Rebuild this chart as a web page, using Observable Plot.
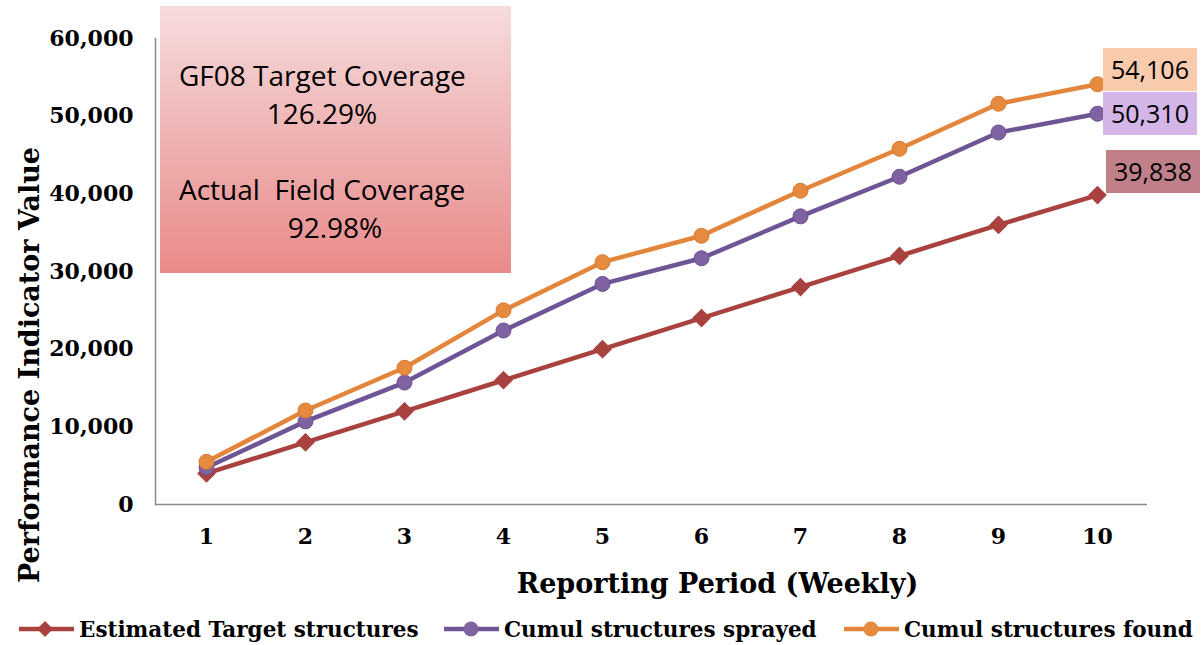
<!DOCTYPE html>
<html>
<head>
<meta charset="utf-8">
<script src="https://cdn.jsdelivr.net/npm/d3@7"></script>
<script src="https://cdn.jsdelivr.net/npm/@observablehq/plot@0.6"></script>
<style>
  body { margin: 0; background: #fff; }
  #wrap { position: relative; width: 1201px; height: 645px; overflow: hidden; }
  .box { position: absolute; font-family: "Open Sans", sans-serif; color: #000; }
  .legend { position: absolute; top: 612px; left: 0; width: 1201px; height: 34px;
            font-family: "DejaVu Serif", serif; font-weight: bold; font-size: 21.5px; }
  .leg-item { position: absolute; display: flex; align-items: center; white-space: nowrap; }
  .ytitle { position: absolute; font-family: "DejaVu Serif", serif; font-weight: bold; font-size: 27px;
            white-space: nowrap; transform: translate(-50%, -50%) rotate(-90deg); }
</style>
</head>
<body>
<div id="wrap"></div>
<script>
// ---- data ----
const weeks = [1, 2, 3, 4, 5, 6, 7, 8, 9, 10];
const target = [4000, 8000, 12000, 16000, 20000, 24000, 28000, 32000, 36000, 39838];
const sprayed = [4760, 10700, 15700, 22400, 28400, 31700, 37100, 42200, 47900, 50310];
const found = [5500, 12100, 17600, 25000, 31200, 34600, 40400, 45800, 51600, 54106];
const seriesNames = ["Estimated Target structures", "Cumul structures sprayed", "Cumul structures found"];
const yTicks = [0, 10000, 20000, 30000, 40000, 50000, 60000];
const boxLines = ["GF08 Target Coverage", "126.29%", "Actual  Field Coverage", "92.98%"];
const yTitle = "Performance Indicator Value";
const xTitle = "Reporting Period (Weekly)";

const colors = { line: ["#A9423F", "#6E5596", "#E3853A"], dot: ["#A9423F", "#7E62A1", "#E58A3E"] };

const rows = (vals, s) => weeks.map((w, i) => ({ week: w, value: vals[i], series: s }));
const dTarget = rows(target, seriesNames[0]);
const dSprayed = rows(sprayed, seriesNames[1]);
const dFound = rows(found, seriesNames[2]);

const W = 1201, H = 645;
const chart = Plot.plot({
  width: W, height: H,
  marginLeft: 155, marginRight: 54, marginTop: 38, marginBottom: 141,
  style: { fontFamily: "DejaVu Serif, serif", fontWeight: "bold", fontSize: "22px", color: "#000", background: "transparent", overflow: "visible" },
  x: { type: "point", domain: weeks, padding: 0.5 },
  y: { domain: [0, 60000] },
  marks: [
    Plot.axisY({ ticks: yTicks, tickFormat: d3.format(","), tickSize: 0, tickPadding: 22, label: null, fontSize: 22, fontWeight: "bold" }),
    Plot.axisX({ ticks: weeks, tickSize: 0, tickPadding: 24, label: null, fontSize: 22, fontWeight: "bold" }),
    Plot.ruleY([0], { stroke: "#8a8a8a", strokeWidth: 1.5 }),
    Plot.frame({ anchor: "left", stroke: "#8a8a8a", strokeWidth: 1.5 }),
    Plot.text([xTitle], { frameAnchor: "bottom", dy: 88, dx: 66, fontSize: 27, fontWeight: "bold" }),
    Plot.line(dTarget, { x: "week", y: "value", stroke: colors.line[0], strokeWidth: 4.5 }),
    Plot.dot(dTarget, { x: "week", y: "value", symbol: "diamond2", r: 7.5, fill: colors.dot[0], stroke: colors.dot[0] }),
    Plot.line(dSprayed, { x: "week", y: "value", stroke: colors.line[1], strokeWidth: 4.5 }),
    Plot.dot(dSprayed, { x: "week", y: "value", r: 7.5, fill: colors.dot[1], stroke: "#6A5090", strokeWidth: 1 }),
    Plot.line(dFound, { x: "week", y: "value", stroke: colors.line[2], strokeWidth: 4.5 }),
    Plot.dot(dFound, { x: "week", y: "value", r: 7.5, fill: colors.dot[2], stroke: "#D77B32", strokeWidth: 1 })
  ]
});
const wrap = document.getElementById("wrap");
wrap.appendChild(chart);
chart.style.position = "absolute";
chart.style.left = "0px";
chart.style.top = "0px";

const xs = chart.scale("x"), ys = chart.scale("y");

// y title (rotated)
const yt = document.createElement("div");
yt.className = "ytitle";
yt.textContent = yTitle;
yt.style.left = "29px";
yt.style.top = "365px";
wrap.appendChild(yt);

// annotation box
const box = document.createElement("div");
box.className = "box";
Object.assign(box.style, {
  left: "160px", top: "6px", width: "351px", height: "267px",
  background: "linear-gradient(to bottom, #F6DCDD 0%, #EEB2B2 50%, #EA8A8A 100%)"
});
const lineSpecs = [
  { t: boxLines[0], top: 51, left: 19, center: null },
  { t: boxLines[1], top: 89, center: 162 },
  { t: boxLines[2], top: 165, left: 19, center: null },
  { t: boxLines[3], top: 203, center: 175 }
];
lineSpecs.forEach(s => {
  const d = document.createElement("div");
  d.textContent = s.t;
  Object.assign(d.style, { position: "absolute", top: s.top + "px", whiteSpace: "pre", fontSize: "28px", lineHeight: "36px" });
  if (s.center != null) {
    d.style.left = s.center + "px";
    d.style.transform = "translateX(-50%)";
  } else {
    d.style.left = s.left + "px";
  }
  box.appendChild(d);
});
wrap.appendChild(box);

// end value labels
const endLabels = [
  { v: found[9], bg: "#F8CBAD", dy: -36, dx: 6 },
  { v: sprayed[9], bg: "#D4B5E8", dy: -21, dx: 6 },
  { v: target[9], bg: "#C0808A", dy: -45, dx: 9 }
];
endLabels.forEach(l => {
  const d = document.createElement("div");
  d.className = "box";
  d.textContent = d3.format(",")(l.v);
  Object.assign(d.style, { left: (xs.apply(10) + l.dx) + "px", top: (ys.apply(l.v) + l.dy) + "px",
    width: "94px", height: "43px", lineHeight: "43px", textAlign: "center", background: l.bg, fontSize: "25px" });
  wrap.appendChild(d);
});

// legend
const legend = document.createElement("div");
legend.className = "legend";
const legPos = [18, 443, 843];
seriesNames.forEach((name, i) => {
  const it = document.createElement("div");
  it.className = "leg-item";
  it.style.left = legPos[i] + "px";
  it.style.top = "0px";
  it.style.height = "34px";
  const sw = d3.create("svg").attr("width", 58).attr("height", 20).style("margin-right", "3px");
  sw.append("line").attr("x1", 1).attr("x2", 56).attr("y1", 10).attr("y2", 10).attr("stroke", colors.line[i]).attr("stroke-width", 4.5);
  if (i === 0) {
    sw.append("path").attr("d", "M27,2 L35,10 L27,18 L19,10 Z").attr("fill", colors.dot[i]);
  } else {
    sw.append("circle").attr("cx", 28).attr("cy", 10).attr("r", 7.5).attr("fill", colors.dot[i]);
  }
  it.appendChild(sw.node());
  const tx = document.createElement("span");
  tx.textContent = name;
  it.appendChild(tx);
  legend.appendChild(it);
});
wrap.appendChild(legend);
</script>
</body>
</html>
